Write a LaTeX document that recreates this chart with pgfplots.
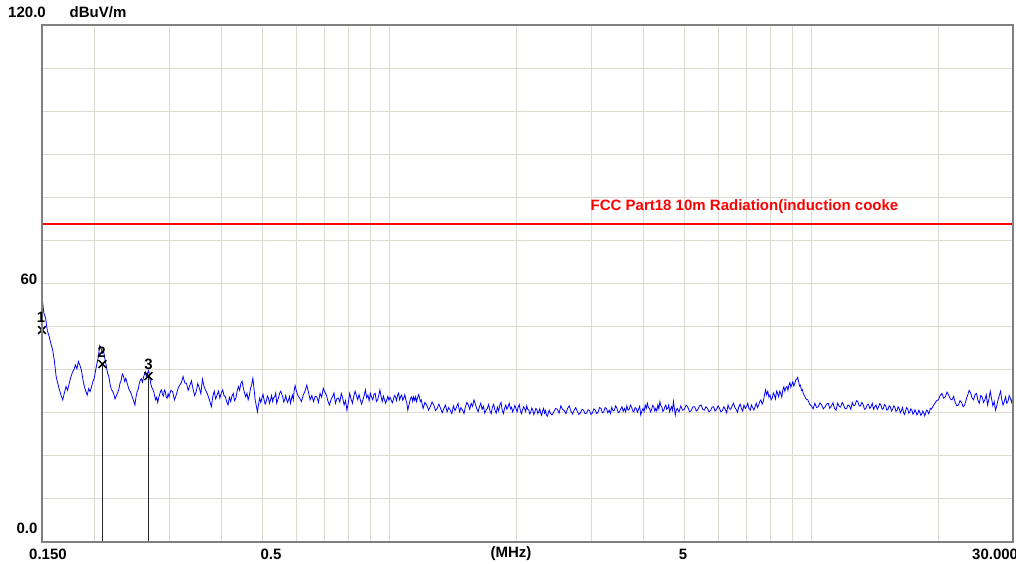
\documentclass[border=0pt]{standalone}
\usepackage{pgfplots}
\pgfplotsset{compat=1.18}
\usepackage{fontspec}
\setmainfont{Liberation Sans}
\definecolor{gridc}{RGB}{222,218,210}
\definecolor{framec}{RGB}{128,128,128}
\begin{document}
\begin{tikzpicture}[x=1pt,y=1pt,
  lab/.style={inner sep=0pt, font=\bfseries\fontsize{15}{15}\selectfont}]
\path[use as bounding box] (0,0) rectangle (1016,563);
\begin{axis}[
  at={(42pt,21pt)}, anchor=south west, scale only axis,
  width=971pt, height=517pt,
  xmode=log, xmin=0.15, xmax=30, ymin=0, ymax=120,
  xtick={0.2,0.3,0.4,0.5,0.6,0.7,0.8,0.9,1,2,3,4,5,6,7,8,9,10,20},
  ytick={10,20,30,40,50,60,70,80,90,100,110},
  xticklabels={}, yticklabels={},
  major tick length=0pt,
  grid=major, grid style={gridc, line width=1pt},
  axis line style={framec, line width=2.5pt},
  clip=true,
]
\addplot[blue, line width=0.8pt, mark=none] coordinates {
(0.150,53.0) (0.1508,55.0) (0.1515,53.2) (0.1522,52.6) (0.153,51.9) (0.1545,49.0) (0.156,47.7) (0.1575,46.0) (0.159,44.6) (0.1605,42.0)
(0.162,38.5) (0.1635,36.8) (0.165,35.3) (0.1665,34.0) (0.168,33.0) (0.1695,34.6) (0.171,36.1) (0.1725,35.2) (0.174,36.8) (0.1755,38.2)
(0.177,39.3) (0.1785,40.0) (0.180,41.1) (0.1815,40.2) (0.183,41.9) (0.1845,41.0) (0.186,39.9) (0.1875,37.8) (0.189,36.1) (0.1905,35.0)
(0.192,34.1) (0.1935,35.6) (0.195,34.9) (0.1965,36.0) (0.198,37.2) (0.1995,38.0) (0.201,39.9) (0.2025,41.5) (0.204,43.0) (0.2055,45.6)
(0.207,45.0) (0.2085,43.8) (0.210,44.2) (0.2115,42.4) (0.213,40.9) (0.2145,39.2) (0.216,38.4) (0.2175,36.6) (0.219,35.4) (0.2205,35.0)
(0.222,34.3) (0.2235,33.2) (0.225,33.9) (0.2265,34.6) (0.228,35.3) (0.2295,36.8) (0.231,37.5) (0.2325,39.0) (0.234,38.5) (0.2355,37.3)
(0.237,38.0) (0.2385,37.0) (0.240,36.1) (0.2415,35.2) (0.243,34.9) (0.2445,34.2) (0.246,33.4) (0.2475,32.6) (0.249,31.8) (0.2505,33.6)
(0.252,34.9) (0.2535,35.4) (0.255,36.7) (0.2565,37.6) (0.258,37.9) (0.2595,37.1) (0.261,38.2) (0.2625,39.0) (0.264,39.5) (0.2655,38.4)
(0.267,39.3) (0.2685,39.8) (0.270,38.2) (0.2715,36.8) (0.273,35.9) (0.2745,35.5) (0.276,34.9) (0.2775,33.8) (0.279,33.0) (0.2805,33.6)
(0.282,32.4) (0.2835,33.4) (0.285,34.3) (0.2865,35.0) (0.288,35.3) (0.2895,34.2) (0.291,33.9) (0.2925,35.3) (0.294,34.9) (0.2955,33.6)
(0.297,33.4) (0.2985,34.4) (0.300,33.7)
(0.303,35.2) (0.306,34.9) (0.309,33.0) (0.312,34.1) (0.315,35.6) (0.318,36.4) (0.321,37.0) (0.324,38.4) (0.327,36.9) (0.330,36.8)
(0.333,35.2) (0.336,36.3) (0.339,37.4) (0.342,35.5) (0.345,34.0) (0.348,34.9) (0.351,36.8) (0.354,35.7) (0.357,34.4) (0.360,37.8)
(0.363,36.2) (0.366,35.3) (0.369,34.6) (0.372,33.7) (0.375,32.6) (0.378,31.4) (0.381,33.8) (0.384,35.0) (0.387,33.2) (0.390,34.1)
(0.393,35.0) (0.396,33.4) (0.399,34.6) (0.402,35.3) (0.405,34.0) (0.408,33.7) (0.411,32.5) (0.414,31.8) (0.417,33.6) (0.420,32.6)
(0.423,33.9) (0.426,34.5) (0.429,32.8) (0.432,33.4) (0.435,35.0) (0.438,36.1) (0.441,35.2) (0.444,36.8) (0.447,37.3) (0.450,35.7)
(0.453,34.6) (0.456,33.7) (0.459,34.5) (0.462,33.0) (0.465,34.0) (0.468,35.7) (0.471,36.5) (0.474,38.0) (0.477,35.6) (0.480,33.0)
(0.483,31.6) (0.486,30.2) (0.489,32.0) (0.492,33.4) (0.495,32.4) (0.498,33.4) (0.501,34.3) (0.504,33.0) (0.507,32.0) (0.510,32.6)
(0.513,33.9) (0.516,33.4) (0.519,32.2) (0.522,33.0) (0.525,34.0) (0.528,32.6) (0.531,33.5) (0.534,33.7) (0.537,34.6) (0.540,32.2)
(0.543,33.0) (0.546,33.7) (0.549,34.6) (0.552,35.0) (0.555,34.3) (0.558,33.7) (0.561,32.5) (0.564,33.0) (0.567,34.0) (0.570,33.0)
(0.573,32.4) (0.576,33.0) (0.579,33.8) (0.582,32.2) (0.585,33.2) (0.588,34.1) (0.591,33.0) (0.594,35.3) (0.597,36.3) (0.600,35.3)
(0.606,34.0) (0.612,33.4) (0.618,32.6) (0.624,34.1) (0.630,35.0) (0.636,36.4) (0.642,34.8) (0.648,33.0) (0.654,34.0) (0.660,32.6)
(0.666,33.8) (0.672,33.7) (0.678,32.4) (0.684,34.5) (0.690,33.6) (0.696,35.7) (0.702,34.8) (0.708,34.1) (0.714,32.7) (0.720,31.8)
(0.726,33.0) (0.732,33.7) (0.738,34.6) (0.744,32.2) (0.750,33.3) (0.756,33.4) (0.762,32.5) (0.768,34.5) (0.774,33.4) (0.780,31.8)
(0.786,32.8) (0.792,30.6) (0.798,32.3) (0.804,34.5) (0.810,33.2) (0.816,32.2) (0.822,33.8) (0.828,35.0) (0.834,34.0) (0.840,33.0)
(0.846,34.2) (0.852,33.0) (0.858,32.0) (0.864,33.0) (0.870,34.0) (0.876,35.3) (0.882,33.5) (0.888,34.1) (0.894,32.8) (0.900,34.5)
(0.906,33.6) (0.912,33.0) (0.918,34.3) (0.924,34.5) (0.930,32.6) (0.936,33.0) (0.942,34.0) (0.948,35.3) (0.954,33.8) (0.960,32.6)
(0.966,33.9) (0.972,33.0) (0.978,32.2) (0.984,33.0) (0.990,33.8) (0.996,32.9) (1.002,33.6) (1.008,33.0) (1.014,32.3) (1.020,33.0)
(1.026,34.0) (1.032,33.7) (1.038,32.8) (1.044,34.1) (1.050,34.6) (1.056,33.0) (1.062,33.8) (1.068,34.1) (1.074,32.9) (1.080,33.4)
(1.086,34.2) (1.092,33.0) (1.098,32.3) (1.104,30.6) (1.110,31.7) (1.116,32.6) (1.122,33.4) (1.128,33.7) (1.134,32.6) (1.140,33.7)
(1.146,32.9) (1.152,33.7) (1.158,32.6) (1.164,33.4) (1.170,34.2) (1.176,33.7) (1.182,32.6) (1.188,33.0) (1.194,32.0) (1.200,31.0)
(1.212,32.4) (1.224,31.8) (1.236,30.6) (1.248,31.4) (1.260,32.5) (1.272,31.8) (1.284,30.5) (1.296,31.0) (1.308,32.0) (1.320,31.0)
(1.332,30.0) (1.344,31.0) (1.356,31.8) (1.368,30.2) (1.380,31.2) (1.392,30.6) (1.404,29.8) (1.416,31.6) (1.428,30.5) (1.440,31.3)
(1.452,32.2) (1.464,30.2) (1.476,31.2) (1.488,30.6) (1.500,29.8) (1.512,31.4) (1.524,32.4) (1.536,31.8) (1.548,30.8) (1.560,32.2)
(1.572,31.5) (1.584,33.0) (1.596,32.0) (1.608,31.0) (1.620,30.2) (1.632,31.4) (1.644,32.2) (1.656,30.8) (1.668,31.5) (1.680,29.9)
(1.692,30.6) (1.704,31.0) (1.716,31.9) (1.728,30.5) (1.740,29.8) (1.752,31.3) (1.764,32.0) (1.776,30.6) (1.788,29.9) (1.800,31.3)
(1.812,30.4) (1.824,31.8) (1.836,32.4) (1.848,30.6) (1.860,29.8) (1.872,31.0) (1.884,31.8) (1.896,30.8) (1.908,31.4) (1.920,32.2)
(1.932,30.9) (1.944,31.3) (1.956,30.2) (1.968,30.8) (1.980,31.7) (1.992,31.0) (2.004,30.2) (2.016,31.3) (2.028,31.9) (2.040,30.5)
(2.052,29.8) (2.064,30.6) (2.076,31.4) (2.088,31.0) (2.100,30.3) (2.112,31.6) (2.124,30.8) (2.136,30.6) (2.148,29.7) (2.160,30.2)
(2.172,31.1) (2.184,30.6) (2.196,29.6) (2.208,30.2) (2.220,31.0) (2.232,30.8) (2.244,29.8) (2.256,30.2) (2.268,30.9) (2.280,29.9)
(2.292,29.4) (2.304,30.5) (2.316,31.0) (2.328,29.9) (2.340,30.5) (2.352,29.5) (2.364,29.2) (2.376,29.9) (2.388,30.6) (2.400,30.0)
(2.424,29.5) (2.448,30.2) (2.472,31.0) (2.496,30.8) (2.520,29.9) (2.544,31.6) (2.568,30.8) (2.592,30.5) (2.616,29.8) (2.640,31.0)
(2.664,31.6) (2.688,30.4) (2.712,29.7) (2.736,30.6) (2.760,31.2) (2.784,30.3) (2.808,29.6) (2.832,30.0) (2.856,30.8) (2.880,30.6)
(2.904,29.8) (2.928,29.9) (2.952,30.7) (2.976,30.5) (3.000,29.6) (3.024,30.0) (3.048,30.9) (3.072,30.6) (3.096,29.8) (3.120,30.2)
(3.144,31.2) (3.168,31.0) (3.192,30.0) (3.216,30.2) (3.240,31.2) (3.264,31.0) (3.288,30.0) (3.312,30.6) (3.336,29.8) (3.360,31.3)
(3.384,30.4) (3.408,30.6) (3.432,31.6) (3.456,31.0) (3.480,30.0) (3.504,30.2) (3.528,30.9) (3.552,31.4) (3.576,30.3) (3.600,31.0)
(3.624,30.2) (3.648,31.6) (3.672,30.6) (3.696,30.8) (3.720,31.8) (3.744,31.3) (3.768,30.4) (3.792,30.2) (3.816,31.2) (3.840,31.0)
(3.864,30.1) (3.888,30.8) (3.912,31.5) (3.936,29.5) (3.960,30.4) (3.984,31.0) (4.008,30.3) (4.032,31.8) (4.056,31.0) (4.080,32.2)
(4.104,31.2) (4.128,31.0) (4.152,30.2) (4.176,30.8) (4.200,31.7) (4.224,31.4) (4.248,30.4) (4.272,31.0) (4.296,30.4) (4.320,31.8)
(4.344,30.9) (4.368,32.6) (4.392,31.6) (4.416,31.3) (4.440,30.3) (4.464,30.6) (4.488,31.4) (4.512,31.8) (4.536,30.8) (4.560,31.0)
(4.584,31.8) (4.608,30.2) (4.632,30.9) (4.656,31.4) (4.680,30.6) (4.704,32.6) (4.728,31.0) (4.752,29.5) (4.776,30.6) (4.800,31.0)
(4.848,30.2) (4.896,31.6) (4.944,30.6) (4.992,30.8) (5.040,31.8) (5.088,31.3) (5.136,30.2) (5.184,30.5) (5.232,31.4) (5.280,31.4)
(5.328,30.4) (5.376,30.8) (5.424,31.6) (5.472,31.8) (5.520,30.8) (5.568,30.6) (5.616,31.4) (5.664,31.0) (5.712,30.2) (5.760,30.5)
(5.808,31.3) (5.856,31.4) (5.904,30.4) (5.952,30.8) (6.000,31.6) (6.048,31.0) (6.096,30.2) (6.144,30.5) (6.192,31.4) (6.240,30.8)
(6.288,30.0) (6.336,31.8) (6.384,30.9) (6.432,30.8) (6.480,31.6) (6.528,32.2) (6.576,31.2) (6.624,30.8) (6.672,30.1) (6.720,31.4)
(6.768,32.0) (6.816,31.0) (6.864,30.4) (6.912,31.8) (6.960,31.0) (7.008,31.4) (7.056,32.2) (7.104,31.0) (7.152,30.6) (7.200,31.8)
(7.248,31.2) (7.296,30.6) (7.344,31.4) (7.392,32.2) (7.440,31.2) (7.488,31.8) (7.536,32.6) (7.584,33.0) (7.632,32.0) (7.680,32.6)
(7.728,34.0) (7.776,35.3) (7.824,34.2) (7.872,35.0) (7.920,33.6) (7.968,34.1) (8.016,33.0) (8.064,33.4) (8.112,34.6) (8.160,34.1)
(8.208,33.2) (8.256,35.0) (8.304,34.5) (8.352,33.7) (8.400,35.0) (8.448,34.5) (8.496,33.6) (8.544,35.3) (8.592,36.0) (8.640,35.0)
(8.688,35.8) (8.736,36.1) (8.784,35.2) (8.832,36.4) (8.880,37.0) (8.928,35.9) (8.976,36.6) (9.024,37.2) (9.072,36.2) (9.120,36.8)
(9.168,37.6) (9.216,37.8) (9.264,38.2) (9.312,37.2) (9.360,36.2) (9.408,36.4) (9.456,35.2) (9.504,35.4) (9.552,34.5) (9.600,34.1)
(9.696,33.2) (9.792,33.0) (9.888,32.0) (9.984,31.6) (10.080,30.9) (10.176,32.2) (10.272,31.2) (10.368,31.4) (10.464,32.3) (10.560,31.8)
(10.656,30.9) (10.752,31.3) (10.848,32.0) (10.944,32.2) (11.040,31.0) (11.136,31.6) (11.232,32.3) (11.328,31.0) (11.424,30.6) (11.520,32.2)
(11.616,31.5) (11.712,31.3) (11.808,32.4) (11.904,31.8) (12.000,30.9) (12.096,31.0) (12.192,31.8) (12.288,31.6) (12.384,30.8) (12.480,32.4)
(12.576,31.6) (12.672,31.8) (12.768,32.8) (12.864,32.6) (12.960,31.6) (13.056,31.6) (13.152,32.4) (13.248,31.8) (13.344,30.8) (13.440,31.0)
(13.536,31.8) (13.632,32.0) (13.728,31.0) (13.824,31.4) (13.920,32.2) (14.016,30.8) (14.112,31.4) (14.208,31.8) (14.304,30.8) (14.400,31.3)
(14.496,32.1) (14.592,31.8) (14.688,30.8) (14.784,31.0) (14.880,31.9) (14.976,31.6) (15.072,30.6) (15.168,30.8) (15.264,31.6) (15.360,31.4)
(15.456,30.4) (15.552,30.8) (15.648,31.6) (15.744,31.3) (15.840,30.3) (15.936,30.6) (16.032,31.4) (16.128,31.0) (16.224,30.0) (16.320,30.5)
(16.416,31.2) (16.512,30.0) (16.608,29.6) (16.704,30.6) (16.800,31.2) (16.896,30.8) (16.992,29.9) (17.088,30.2) (17.184,30.9) (17.280,30.6)
(17.376,29.7) (17.472,30.0) (17.568,30.7) (17.664,30.2) (17.760,29.5) (17.856,29.9) (17.952,30.6) (18.048,30.1) (18.144,29.4) (18.240,29.7)
(18.336,30.4) (18.432,30.0) (18.528,29.3) (18.624,29.9) (18.720,30.6) (18.816,30.5) (18.912,29.8) (19.008,30.1) (19.104,31.0) (19.200,30.8)
(19.392,31.5) (19.584,32.2) (19.776,32.8) (19.968,33.0) (20.160,34.0) (20.352,34.5) (20.544,33.4) (20.736,33.7) (20.928,34.8) (21.120,34.1)
(21.312,33.2) (21.504,33.0) (21.696,33.8) (21.888,32.4) (22.080,31.6) (22.272,31.8) (22.464,32.8) (22.656,32.4) (22.848,31.4) (23.040,31.8)
(23.232,33.0) (23.424,34.1) (23.616,35.2) (23.808,34.6) (24.000,33.4) (24.192,33.0) (24.384,34.2) (24.576,34.5) (24.768,33.0) (24.960,32.2)
(25.152,34.0) (25.344,33.7) (25.536,32.4) (25.728,33.0) (25.920,34.2) (26.112,31.8) (26.304,33.2) (26.496,35.0) (26.688,33.2) (26.880,31.6)
(27.072,32.6) (27.264,30.6) (27.456,31.6) (27.648,33.0) (27.840,34.0) (28.032,35.0) (28.224,33.0) (28.416,31.8) (28.608,32.6) (28.800,33.7)
(28.992,32.2) (29.184,32.6) (29.376,34.0) (29.568,33.4) (29.784,32.4) (30.000,34.0)
};
\addplot[red, line width=2.5pt, mark=none] coordinates {(0.15,73.8) (30,73.8)};
\addplot[black!85, line width=1.5pt, ycomb, mark=none] coordinates {(0.150,49.2) (0.2086,41.3) (0.268,38.5)};
\addplot[black, only marks, mark=x, mark size=5.5pt, line width=1.5pt] coordinates {(0.150,49.2) (0.2086,41.3) (0.268,38.5)};
\end{axis}
\draw[framec, line width=2.5pt] (42,21) rectangle (1013,538);
\node[lab] at (41,246) {1};
\node[lab] at (101.5,211) {2};
\node[lab] at (148.5,199) {3};
\node[lab] at (27,551) {120.0};
\node[lab] at (98,551) {dBuV/m};
\node[lab] at (29,284) {60};
\node[lab] at (27,35) {0.0};
\node[lab] at (48,9) {0.150};
\node[lab] at (271,9) {0.5};
\node[lab] at (511,9) {(MHz)};
\node[lab] at (683,9) {5};
\node[lab,anchor=west] at (972,9) {30.000};
\node[lab,text=red] at (744.5,356) {FCC Part18 10m Radiation(induction cooke};
\end{tikzpicture}
\end{document}
